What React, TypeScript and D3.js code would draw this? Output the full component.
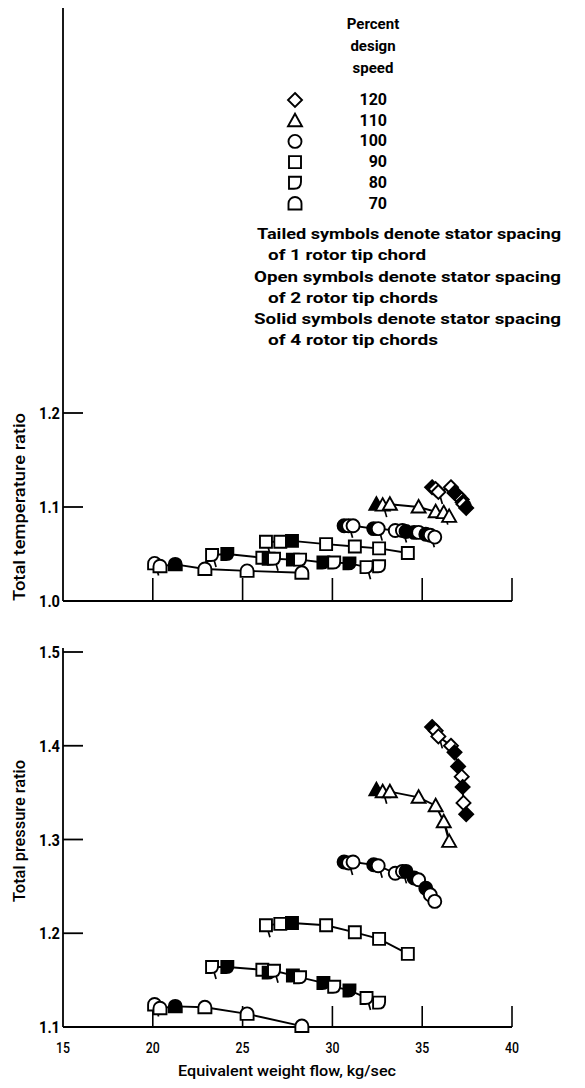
import React from "react";
import * as d3 from "d3";

// ---- data (flow kg/sec, total temperature ratio, total pressure ratio, stator spacing in rotor tip chords)
const speeds = [120, 110, 100, 90, 80, 70];

const flow120 = [35.55, 35.75, 35.9, 36.6, 36.8, 37.0, 37.2, 37.25, 37.3, 37.45];
const temp120 = [1.121, 1.119, 1.116, 1.121, 1.115, 1.112, 1.108, 1.105, 1.103, 1.099];
const press120 = [1.42, 1.416, 1.41, 1.4, 1.393, 1.378, 1.367, 1.356, 1.339, 1.327];
const cfg120 = [4, 2, 1, 2, 4, 4, 1, 4, 2, 4];

const flow110 = [32.45, 32.8, 33.2, 34.8, 35.75, 36.2, 36.5];
const temp110 = [1.103, 1.102, 1.103, 1.1, 1.095, 1.094, 1.09];
const press110 = [1.353, 1.351, 1.351, 1.345, 1.336, 1.319, 1.298];
const cfg110 = [4, 1, 2, 2, 2, 1, 2];

const flow100 = [30.65, 30.9, 31.15, 32.3, 32.55, 33.5, 33.9, 34.1, 34.55, 34.8, 35.2, 35.45, 35.7];
const temp100 = [1.08, 1.08, 1.08, 1.077, 1.077, 1.075, 1.075, 1.074, 1.073, 1.073, 1.071, 1.07, 1.068];
const press100 = [1.276, 1.275, 1.276, 1.273, 1.272, 1.264, 1.266, 1.266, 1.259, 1.257, 1.248, 1.241, 1.234];
const cfg100 = [4, 1, 2, 4, 1, 2, 1, 4, 4, 2, 4, 1, 2];

const flow90 = [26.3, 27.1, 27.75, 29.65, 31.25, 32.6, 34.2];
const temp90 = [1.063, 1.063, 1.064, 1.0605, 1.058, 1.056, 1.051];
const press90 = [1.2085, 1.21, 1.211, 1.2085, 1.201, 1.194, 1.178];
const cfg90 = [1, 2, 4, 2, 2, 2, 2];

const flow80 = [23.3, 24.15, 26.1, 26.45, 26.75, 27.8, 28.2, 29.5, 30.1, 30.95, 31.9, 32.6];
const temp80 = [1.049, 1.05, 1.046, 1.045, 1.045, 1.044, 1.044, 1.041, 1.041, 1.04, 1.036, 1.037];
const press80 = [1.164, 1.164, 1.161, 1.158, 1.16, 1.155, 1.153, 1.147, 1.143, 1.139, 1.131, 1.126];
const cfg80 = [1, 4, 2, 4, 1, 4, 2, 4, 2, 4, 1, 2];

const flow70 = [20.1, 20.4, 21.25, 22.9, 25.25, 28.3];
const temp70 = [1.04, 1.037, 1.039, 1.034, 1.032, 1.03];
const press70 = [1.124, 1.12, 1.122, 1.121, 1.114, 1.101];
const cfg70 = [1, 2, 4, 2, 2, 2];

const xTicks = [15, 20, 25, 30, 35, 40];
const tempTicks = [1.0, 1.1, 1.2];
const pressTicks = [1.1, 1.2, 1.3, 1.4, 1.5];

const legendTitle = ["Percent", "design", "speed"];
const notes = [
  ["Tailed symbols denote stator spacing", "of 1 rotor tip chord"],
  ["Open symbols denote stator spacing", "of 2 rotor tip chords"],
  ["Solid symbols denote stator spacing", "of 4 rotor tip chords"],
];

type Pt = { x: number; t: number; p: number; c: number };
const build = (f: number[], t: number[], p: number[], c: number[]): Pt[] =>
  f.map((v, i) => ({ x: v, t: t[i], p: p[i], c: c[i] }));

const series: { speed: number; pts: Pt[] }[] = [
  { speed: 120, pts: build(flow120, temp120, press120, cfg120) },
  { speed: 110, pts: build(flow110, temp110, press110, cfg110) },
  { speed: 100, pts: build(flow100, temp100, press100, cfg100) },
  { speed: 90, pts: build(flow90, temp90, press90, cfg90) },
  { speed: 80, pts: build(flow80, temp80, press80, cfg80) },
  { speed: 70, pts: build(flow70, temp70, press70, cfg70) },
];

// ---- symbol shapes (centered at 0,0)
const shapePath: Record<number, string> = {
  120: "M0,-7 L7,0 L0,7 L-7,0 Z",
  110: "M0,-7 L7,5.5 L-7,5.5 Z",
  100: "M6.5,0 A6.5,6.5 0 1 1 -6.5,0 A6.5,6.5 0 1 1 6.5,0 Z",
  90: "M-6,-6 H6 V6 H-6 Z",
  80: "M-6,-6 H6 V-1 Q6,6 -1,6 H-6 Z",
  70: "M-6.5,6 V0 A6.5,6.5 0 0 1 6.5,0 V6 Z",
};

const FONT = "Roboto, 'Liberation Sans', 'DejaVu Sans', sans-serif";

const Symbol = ({ speed, c, x, y }: { speed: number; c: number; x: number; y: number }) => (
  <g transform={`translate(${x},${y})`}>
    {c === 1 && <line x1={2} y1={5} x2={4} y2={12} stroke="#000" strokeWidth={1.7} />}
    <path d={shapePath[speed]} fill={c === 4 ? "#000" : "#fff"} stroke="#000" strokeWidth={1.9} />
  </g>
);

export default function App() {
  const x = d3.scaleLinear().domain([15, 40]).range([63, 512]);
  const yT = d3.scaleLinear().domain([1.0, 1.2]).range([601, 413]);
  const yP = d3.scaleLinear().domain([1.1, 1.5]).range([1027, 652]);

  const lineT = d3.line<Pt>().x((d) => x(d.x)).y((d) => yT(d.t));
  const lineP = d3.line<Pt>().x((d) => x(d.x)).y((d) => yP(d.p));

  const sorted = (pts: Pt[]) => [...pts].sort((a, b) => a.x - b.x);

  const tickLen = 20;
  const subLen = [158, 170, 170];

  return (
    <svg width={585} height={1088} style={{ position: "absolute", left: 0, top: 0, background: "#fff" }}>
      <rect x={0} y={0} width={585} height={1088} fill="#fff" />

      {/* ---------- top panel ---------- */}
      <line x1={x(15)} y1={8} x2={x(15)} y2={yT(1.0)} stroke="#000" strokeWidth={1.8} />
      <line x1={x(15)} y1={yT(1.0)} x2={x(40)} y2={yT(1.0)} stroke="#000" strokeWidth={1.8} />
      {xTicks.slice(1).map((v) => (
        <line key={"tx" + v} x1={x(v)} x2={x(v)} y1={yT(1.0)} y2={yT(1.0) - 23} stroke="#000" strokeWidth={1.6} />
      ))}
      {tempTicks.map((v) => (
        <g key={"ty" + v}>
          {v > 1.0 && (
            <line x1={x(15)} x2={x(15) + tickLen} y1={yT(v)} y2={yT(v)} stroke="#000" strokeWidth={1.8} />
          )}
          <text x={60} y={yT(v) + 6} textAnchor="end" fontFamily={FONT} fontWeight={700} fontSize={16}
            textLength={21} lengthAdjust="spacingAndGlyphs">
            {v.toFixed(1)}
          </text>
        </g>
      ))}
      <text
        transform={`translate(25,507) rotate(-90)`}
        textAnchor="middle"
        fontFamily={FONT}
        fontWeight={500}
        fontSize={16}
        textLength={188}
        lengthAdjust="spacingAndGlyphs"
      >
        Total temperature ratio
      </text>

      {series.map((s) => (
        <path key={"lt" + s.speed} d={lineT(sorted(s.pts)) || ""} fill="none" stroke="#000" strokeWidth={1.9} />
      ))}
      {series.map((s) =>
        s.pts.map((d, i) => <Symbol key={`st${s.speed}-${i}`} speed={s.speed} c={d.c} x={x(d.x)} y={yT(d.t)} />)
      )}

      {/* ---------- bottom panel ---------- */}
      <line x1={x(15)} y1={648} x2={x(15)} y2={yP(1.1)} stroke="#000" strokeWidth={1.8} />
      <line x1={x(15)} y1={yP(1.1)} x2={x(40)} y2={yP(1.1)} stroke="#000" strokeWidth={1.8} />
      {xTicks.slice(1).map((v) => (
        <line key={"bx" + v} x1={x(v)} x2={x(v)} y1={yP(1.1)} y2={yP(1.1) - 21} stroke="#000" strokeWidth={1.6} />
      ))}
      {xTicks.map((v) => (
        <text key={"bxl" + v} x={x(v)} y={1053} textAnchor="middle" fontFamily={FONT} fontWeight={500} fontSize={15}
          textLength={14} lengthAdjust="spacingAndGlyphs">
          {v}
        </text>
      ))}
      {pressTicks.map((v) => (
        <g key={"py" + v}>
          {v > 1.1 && (
            <line x1={x(15)} x2={x(15) + tickLen} y1={yP(v)} y2={yP(v)} stroke="#000" strokeWidth={1.8} />
          )}
          <text x={60} y={yP(v) + 6} textAnchor="end" fontFamily={FONT} fontWeight={700} fontSize={16}
            textLength={21} lengthAdjust="spacingAndGlyphs">
            {v.toFixed(1)}
          </text>
        </g>
      ))}
      <text
        transform={`translate(25,831) rotate(-90)`}
        textAnchor="middle"
        fontFamily={FONT}
        fontWeight={500}
        fontSize={16}
        textLength={142}
        lengthAdjust="spacingAndGlyphs"
      >
        Total pressure ratio
      </text>
      <text
        x={287}
        y={1076}
        textAnchor="middle"
        fontFamily={FONT}
        fontWeight={500}
        fontSize={15}
        textLength={218}
        lengthAdjust="spacingAndGlyphs"
      >
        Equivalent weight flow, kg/sec
      </text>

      {series.map((s) => (
        <path key={"lp" + s.speed} d={lineP(sorted(s.pts)) || ""} fill="none" stroke="#000" strokeWidth={1.9} />
      ))}
      {series.map((s) =>
        s.pts.map((d, i) => <Symbol key={`sp${s.speed}-${i}`} speed={s.speed} c={d.c} x={x(d.x)} y={yP(d.p)} />)
      )}

      {/* ---------- legend ---------- */}
      {legendTitle.map((t, i) => (
        <text key={t} x={373} y={29 + i * 22} textAnchor="middle" fontFamily={FONT} fontWeight={700} fontSize={15}>
          {t}
        </text>
      ))}
      {speeds.map((sp, i) => (
        <g key={"lg" + sp}>
          <Symbol speed={sp} c={2} x={295} y={100 + i * 20.7} />
          <text x={387} y={105 + i * 20.7} textAnchor="end" fontFamily={FONT} fontWeight={700} fontSize={16}>
            {sp}
          </text>
        </g>
      ))}
      {notes.map((n, i) => (
        <g key={"n" + i}>
          <text
            x={i === 0 ? 257 : 254}
            y={239 + i * 42.5}
            fontFamily={FONT}
            fontWeight={700}
            fontSize={15}
            textLength={i === 0 ? 304 : 307}
            lengthAdjust="spacingAndGlyphs"
          >
            {n[0]}
          </text>
          <text
            x={268}
            y={260 + i * 42.5}
            fontFamily={FONT}
            fontWeight={700}
            fontSize={15}
            textLength={subLen[i]}
            lengthAdjust="spacingAndGlyphs"
          >
            {n[1]}
          </text>
        </g>
      ))}
    </svg>
  );
}
